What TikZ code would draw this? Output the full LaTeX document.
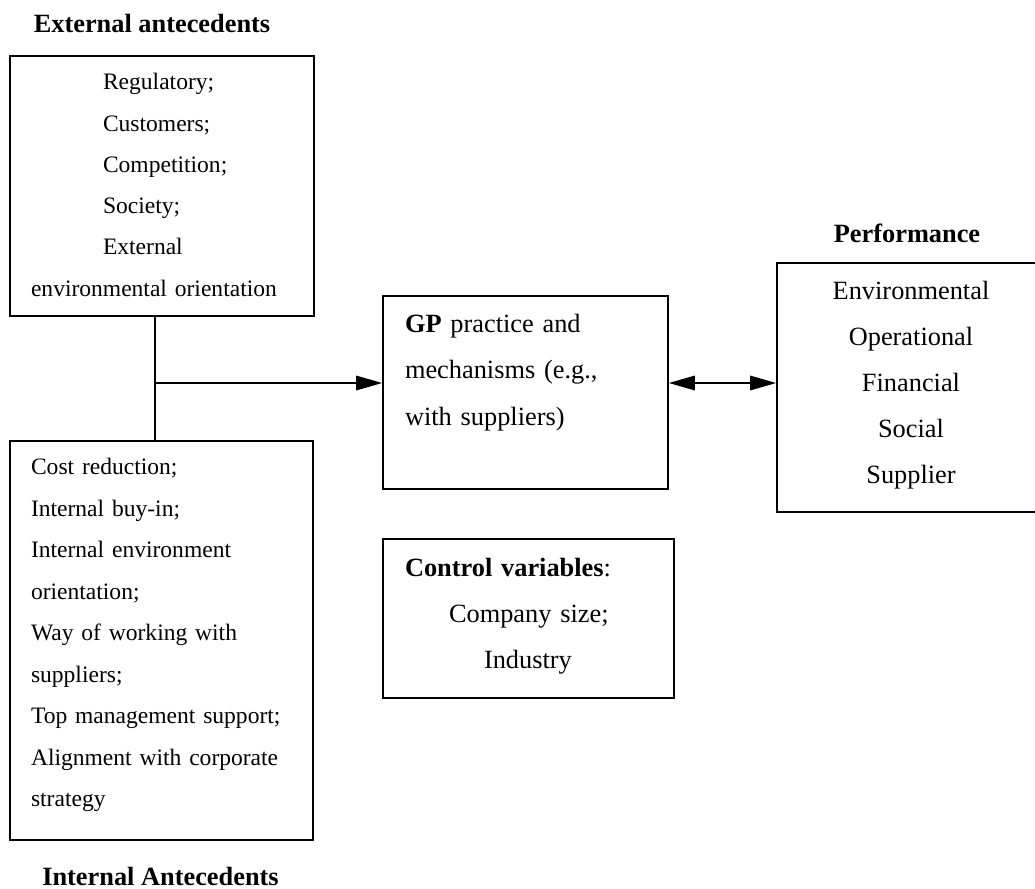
\documentclass[tikz,border=0pt]{standalone}
\usepackage{fontspec}
\setmainfont{Liberation Serif}
\usetikzlibrary{arrows.meta}

\begin{document}
\begin{tikzpicture}[x=0.02cm,y=-0.02cm,>={Triangle[length=0.52cm,width=0.29cm]},
	boite/.style={draw,line width=1pt,inner ysep=0pt,align=left},
	titre/.style={font=\fontsize{15}{18}\selectfont\bfseries}]
	\useasboundingbox (0,0) rectangle (1035,889);
	
	\node[titre] (tea) at (152,23) {External antecedents};
	\node[boite,minimum width=6.08cm,minimum height=5.2cm,inner xsep=0.42cm,text width=5.24cm,font=\fontsize{13.4}{23.5}\selectfont] (ext) at (162,186)
		{\rule{0pt}{17pt}\hspace*{1.44cm}Regulatory;\\ \hspace*{1.44cm}Customers;\\ \hspace*{1.44cm}Competition;\\ \hspace*{1.44cm}Society;\\ \hspace*{1.44cm}External\\ environmental orientation\rule[-9pt]{0pt}{9pt}};
	
	\node[boite,minimum width=6.06cm,minimum height=7.98cm,inner xsep=0.42cm,text width=5.22cm,font=\fontsize{13.4}{23.6}\selectfont] (int) at (161.5,640.5)
		{\rule{0pt}{17pt}Cost reduction;\\ Internal buy-in;\\ Internal environment\\ orientation;\\ Way of working with\\ suppliers;\\ Top management support;\\ Alignment with corporate\\ strategy\rule[-16.7pt]{0pt}{16.7pt}};
	\node[titre] (tint) at (160.5,876) {Internal Antecedents};
	
	\node[boite,minimum width=5.7cm,minimum height=3.86cm,inner xsep=0.44cm,text width=4.82cm,font=\fontsize{15}{26.5}\selectfont] (gp) at (525.5,392.5)
		{\rule{0pt}{18pt}\textbf{GP} practice and\\ mechanisms (e.g.,\\ with suppliers)\\ \rule[-7pt]{0pt}{7pt}};
	
	\node[boite,minimum width=5.82cm,minimum height=3.18cm,inner xsep=0.44cm,text width=4.94cm,font=\fontsize{15}{26.2}\selectfont] (ctrl) at (528.5,618.5)
		{\rule{0pt}{18pt}\textbf{Control variables}:\\ \hspace*{0.88cm}Company size;\\ \hspace*{1.58cm}Industry\rule[-13.3pt]{0pt}{13.3pt}};
	
	\node[titre] (tperf) at (907,233) {Performance};
	\node[boite,align=center,minimum width=5.36cm,minimum height=4.98cm,font=\fontsize{15}{26.2}\selectfont] (perf) at (911,387.5)
		{\rule{0pt}{18pt}Environmental\\ Operational\\ Financial\\ Social\\ Supplier\rule[-13.3pt]{0pt}{13.3pt}};
	
	% liaisons
	\coordinate (jn) at (155,383);
	\draw[line width=1pt] (ext.south -| jn) -- (int.north -| jn);
	\draw[line width=1pt,->] (jn) -- (jn -| gp.west);
	\draw[line width=1pt,<->] (gp.east |- jn) -- (perf.west |- jn);
\end{tikzpicture}
\end{document}
